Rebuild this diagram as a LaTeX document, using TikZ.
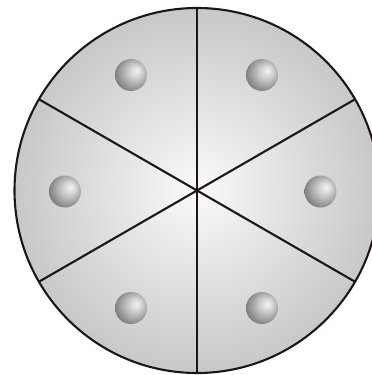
\documentclass[tikz,border=0pt]{standalone}
\usetikzlibrary{calc}
\definecolor{diskin}{RGB}{250,250,250}
\definecolor{diskout}{RGB}{200,200,202}
\definecolor{ballA}{RGB}{244,244,244}
\definecolor{ballB}{RGB}{205,205,205}
\definecolor{ballC}{RGB}{150,150,150}
\definecolor{ballD}{RGB}{95,95,95}
\definecolor{ballE}{RGB}{75,75,75}
\definecolor{edgecol}{RGB}{30,22,22}
\pgfdeclareradialshading{diskshade}{\pgfpoint{0bp}{0bp}}{color(0bp)=(diskin); color(25bp)=(diskout); color(50bp)=(diskout)}
\pgfdeclareradialshading{ballshade}{\pgfpoint{9bp}{7bp}}{color(0bp)=(ballA); color(11bp)=(ballB); color(24bp)=(ballC); color(36bp)=(ballD); color(50bp)=(ballE)}
\tikzset{
  disknode/.style={circle, draw=edgecol, line width=2.1pt, shading=diskshade, minimum size=365pt, inner sep=0pt, outer sep=0pt},
  ballnode/.style={circle, draw=none, shading=ballshade, minimum size=32pt, inner sep=0pt},
  spoke/.style={draw=edgecol, line width=2.1pt}
}
\begin{document}
\begin{tikzpicture}[x=1pt,y=-1pt]
\useasboundingbox (0,0) rectangle (372,375);
\clip (0,0) rectangle (372,375);
\node[disknode] (disk) at (197,190.5) {};
\foreach \a in {90,30,-30,-90,150,210} {
  \draw[spoke] (disk.center) -- (disk.\a);
}
\node[ballnode] (b1) at (131,75) {};
\node[ballnode] (b2) at (262,75) {};
\node[ballnode] (b3) at (65,191.5) {};
\node[ballnode] (b4) at (320.5,191.5) {};
\node[ballnode] (b5) at (131,308) {};
\node[ballnode] (b6) at (262,308) {};
\end{tikzpicture}
\end{document}
